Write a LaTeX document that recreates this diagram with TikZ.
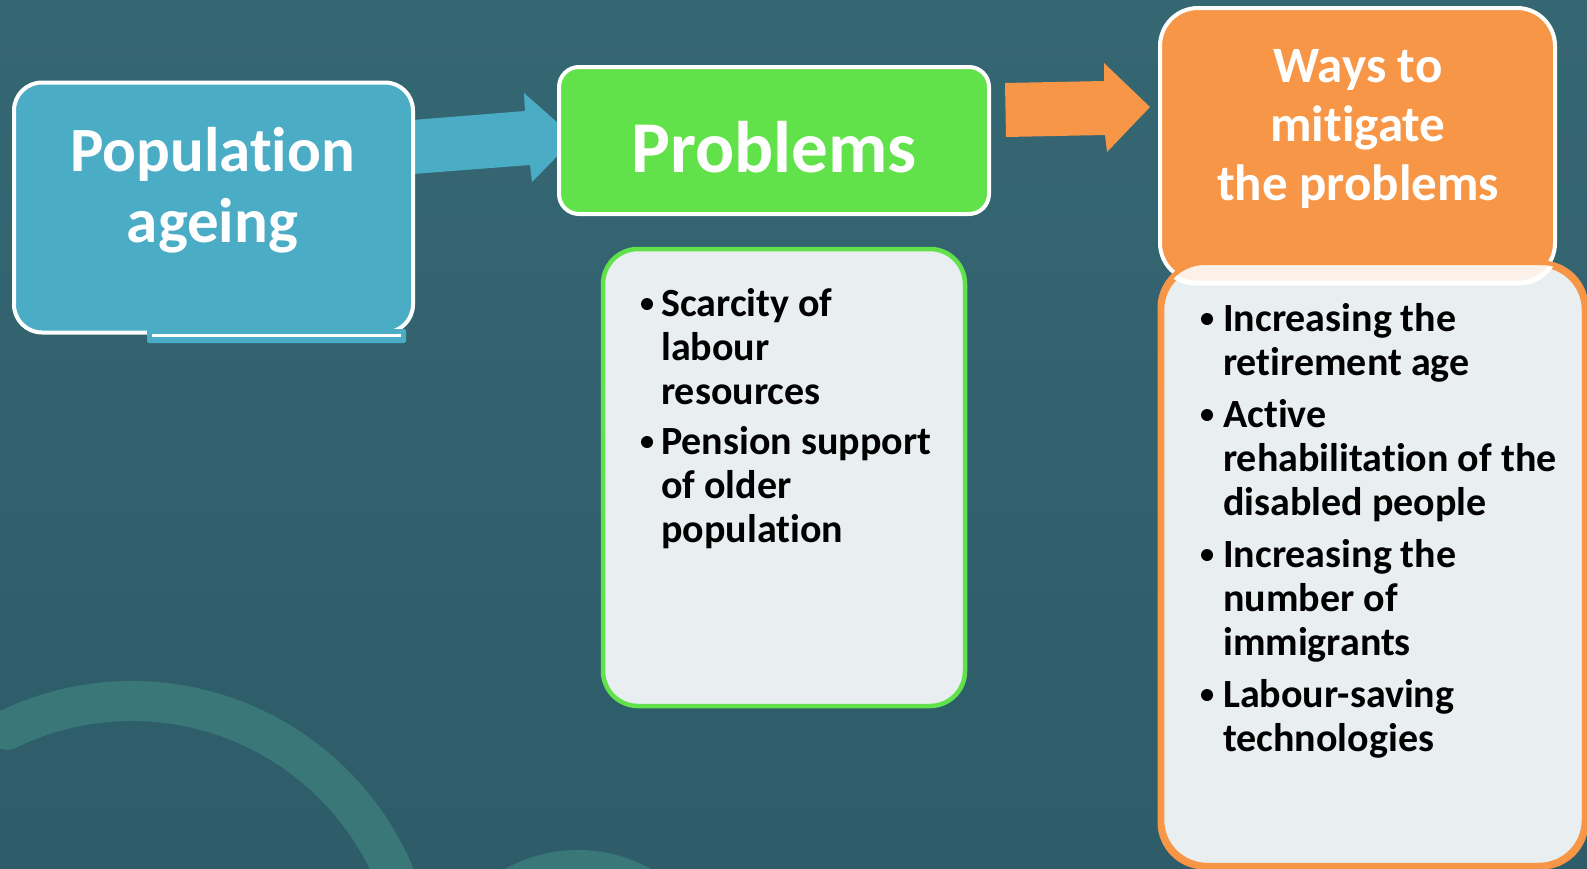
\documentclass[tikz,border=0pt]{standalone}
\usepackage{fontspec}
\setmainfont{Carlito}[Ligatures=NoCommon]
\definecolor{bgtop}{HTML}{356773}
\definecolor{bgbot}{HTML}{2E5C69}
\definecolor{arcc}{HTML}{3A7779}
\definecolor{blu}{HTML}{4BACC6}
\definecolor{grn}{HTML}{62E24A}
\definecolor{org}{HTML}{F79646}
\definecolor{lst}{HTML}{E9EEF0}
\definecolor{peach}{HTML}{FCF1E8}
\tikzset{
  headbox/.style={draw=white, line width=4pt, inner sep=0pt},
  listbox/.style={line width=4.5pt, fill=lst, inner sep=0pt},
  ttl/.style={text=white, font=\bfseries, inner sep=0pt, anchor=base},
  itm/.style={text=black, font=\bfseries, inner sep=0pt, anchor=base west},
  bulletdot/.style={fill=black}
}
\begin{document}
\begin{tikzpicture}[x=1pt,y=-1pt]
\useasboundingbox (0,0) rectangle (1587,868);
\shade[top color=bgtop, bottom color=bgbot] (0,0) rectangle (1587,868);
\begin{scope}
  \clip (0,0) rectangle (1587,868);
  \draw[arcc, line width=40pt, line cap=round] (132,986) ++(-116:285) arc[start angle=-116, end angle=0, radius=285];
  \draw[arcc, line width=40pt] (578,1000) circle[radius=130];
\end{scope}
% blue block arrow
\fill[blu] (400,121) -- (525,111) -- (524,93) -- (575,138) -- (532,182) -- (530,165) -- (400,175) -- cycle;
% left box
\node[headbox, fill=blu, rounded corners=28pt, minimum width=399pt, minimum height=250pt] (pop) at (213.5,207.5) {};
\fill[blu, rounded corners=2pt] (147,329) rectangle (406,343);
\draw[white, line width=3pt] (152,335.5) -- (401,335.5);
\node[ttl] (popt) at (212.5,171) {\parbox[t]{400pt}{\centering\fontsize{63}{71}\selectfont Population\\ageing}};
% problems box
\node[headbox, fill=grn, rounded corners=20pt, minimum width=430pt, minimum height=147pt] (prob) at (774,140.5) {};
\node[ttl] (probt) at (774,172) {\fontsize{73}{80}\selectfont Problems};
% orange block arrow
\fill[org] (1005,83) -- (1104,81) -- (1104,63) -- (1150,107) -- (1107,152) -- (1105,135) -- (1006,137) -- cycle;
% green list
\node[listbox, draw=grn, rounded corners=35pt, minimum width=362pt, minimum height=457pt] (plist) at (784,477.5) {};
\fill[bulletdot] (647,304) circle[radius=6];
\fill[bulletdot] (647,442) circle[radius=6];
\node[itm] (g1) at (661,316) {\parbox[t]{300pt}{\raggedright\fontsize{40}{44}\selectfont Scarcity of\\labour\\resources}};
\node[itm] (g2) at (661,454) {\parbox[t]{300pt}{\raggedright\fontsize{40}{44}\selectfont Pension support\\of older\\population}};
% orange box
\node[headbox, fill=org, rounded corners=38pt, minimum width=395pt, minimum height=273pt] (ways) at (1357.5,144.5) {};
\node[ttl] (wayst) at (1358,82) {\parbox[t]{380pt}{\centering\fontsize{51}{59}\selectfont Ways to\\mitigate\\the problems}};
% right list
\node[listbox, draw=org, rounded corners=45pt, minimum width=422pt, minimum height=600pt] (wlist) at (1373,565) {};
\begin{scope}
  \clip[rounded corners=45pt] (wlist.north west) rectangle (wlist.south east);
  \fill[peach, rounded corners=38pt] (ways.north west) rectangle (ways.south east);
  \draw[white, line width=5pt, rounded corners=38pt] (ways.north west) rectangle (ways.south east);
\end{scope}
\draw[org, line width=4.5pt, rounded corners=45pt] (wlist.north west) rectangle (wlist.south east);
\fill[bulletdot] (1207,319) circle[radius=6];
\fill[bulletdot] (1207,415) circle[radius=6];
\fill[bulletdot] (1207,555) circle[radius=6];
\fill[bulletdot] (1207,695) circle[radius=6];
\node[itm] (w1) at (1223,331) {\parbox[t]{400pt}{\raggedright\fontsize{40}{44}\selectfont Increasing the\\retirement age}};
\node[itm] (w2) at (1223,427) {\parbox[t]{400pt}{\raggedright\fontsize{40}{44}\selectfont Active\\rehabilitation of the\\disabled people}};
\node[itm] (w3) at (1223,567) {\parbox[t]{400pt}{\raggedright\fontsize{40}{44}\selectfont Increasing the\\number of\\immigrants}};
\node[itm] (w4) at (1223,707) {\parbox[t]{400pt}{\raggedright\fontsize{40}{44}\selectfont Labour-saving\\technologies}};
\end{tikzpicture}
\end{document}
